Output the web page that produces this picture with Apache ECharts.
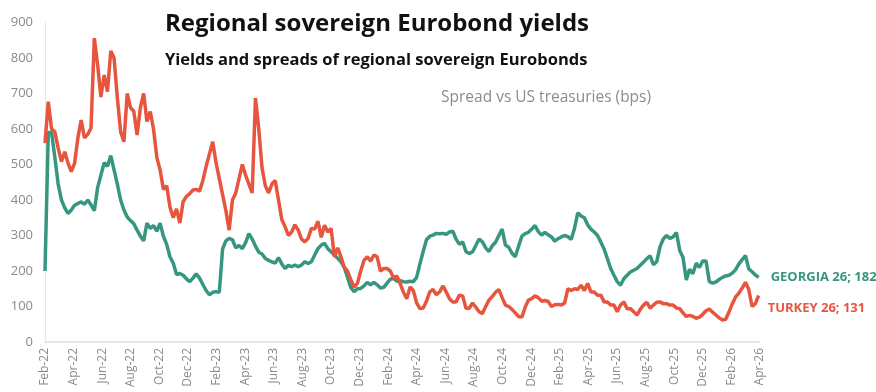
<!DOCTYPE html>
<html>
<head>
<meta charset="utf-8">
<script src="https://cdn.jsdelivr.net/npm/echarts@6/dist/echarts.min.js"></script>
<style>
html,body{margin:0;padding:0;background:#fff;}
#chart{width:876px;height:392px;}
</style>
</head>
<body>
<div id="chart"></div>
<script>
// Weekly observations starting 1 Feb 2022 (spread vs US treasuries, bps)
const startDate = '2022-02-01';
const stepDays = 7;
const tickLabels = ['Feb-22','Apr-22','Jun-22','Aug-22','Oct-22','Dec-22','Feb-23','Apr-23','Jun-23','Aug-23','Oct-23','Dec-23','Feb-24','Apr-24','Jun-24','Aug-24','Oct-24','Dec-24','Feb-25','Apr-25','Jun-25','Aug-25','Oct-25','Dec-25','Feb-26','Apr-26'];

const georgia = [
200,590,590,520,445,400,378,362,372,385,390,395,388,400,386,370,435,470,505,495,
525,485,445,400,372,352,342,333,315,298,285,335,320,328,312,335,298,275,240,222,
190,193,188,178,170,180,192,180,162,145,133,140,142,140,262,285,292,288,265,272,
263,280,305,290,270,253,248,235,230,226,222,238,220,207,216,212,217,212,217,226,
221,226,245,263,273,278,263,254,245,236,226,210,182,153,142,150,151,158,168,161,
168,161,152,154,166,177,179,171,173,170,169,171,170,182,220,255,288,298,301,306,
305,306,303,310,312,290,275,282,255,249,254,272,290,282,265,255,271,281,300,318,
273,267,250,240,270,298,305,309,318,328,311,301,309,302,296,284,291,296,300,297,
289,320,364,355,350,330,318,310,300,282,262,235,207,188,170,160,178,188,197,202,
207,216,225,235,243,218,226,268,290,300,292,296,308,258,238,175,205,192,222,210,
228,228,170,166,169,176,182,186,188,194,204,220,232,243,206,198,189,182
];

const turkey = [
560,677,600,592,546,508,536,504,480,504,575,625,575,585,603,856,781,690,752,705,
820,800,688,592,564,700,660,650,583,660,700,621,649,600,520,485,430,440,380,350,
375,335,395,410,418,428,430,425,455,495,530,564,505,460,415,370,315,400,420,460,
500,470,445,420,687,600,490,440,420,445,455,400,345,325,300,310,330,315,290,282,
292,320,318,340,295,329,310,320,240,265,240,210,200,175,155,165,200,230,240,228,
245,240,200,207,207,200,180,186,165,140,122,155,145,110,94,96,115,141,148,133,
141,158,141,122,113,113,132,130,95,95,110,98,85,80,100,118,128,140,148,125,
104,100,92,82,72,70,98,118,122,130,125,115,117,114,100,105,106,104,110,150,
145,150,148,160,145,165,141,141,132,132,113,113,104,104,85,104,113,94,94,85,
76,92,104,112,95,104,112,113,108,108,104,104,96,94,82,72,75,72,67,70,
78,88,93,84,76,68,62,64,85,108,127,138,152,168,148,100,108,131
];

const seriesNames = ['GEORGIA 26', 'TURKEY 26'];
const colors = ['#36967f', '#e8553f'];

// x value = months elapsed since the start date
const daysPerMonth = 30.4375;
function toPairs(arr){ return arr.map((v,i)=>[i*stepDays/daysPerMonth, v]); }

const chart = echarts.init(document.getElementById('chart'), null, {renderer:'canvas'});
const font = '"Open Sans", Lato, sans-serif';
chart.setOption({
  animation:false,
  backgroundColor:'#fff',
  title:[
    {text:'Regional sovereign Eurobond yields', left:165, top:12, padding:0, textStyle:{fontFamily:font, fontSize:24, fontWeight:'bold', color:'#111'}},
    {text:'Yields and spreads of regional sovereign Eurobonds', left:165, top:52, padding:0, textStyle:{fontFamily:font, fontSize:16.5, fontWeight:'bold', color:'#111'}},
    {text:'Spread vs US treasuries (bps)', left:441, top:90, padding:0, textStyle:{fontFamily:font, fontSize:15.5, fontWeight:'normal', color:'#8c8c8c'}}
  ],
  grid:{left:45, right:116, top:22.5, bottom:50, containLabel:false},
  xAxis:{
    type:'value', min:0, max:(tickLabels.length-1)*2, interval:2,
    axisLine:{show:true, lineStyle:{color:'#dedede', width:1.5}},
    axisTick:{show:false}, splitLine:{show:false},
    axisLabel:{rotate:90, color:'#8a8a8a', fontFamily:font, fontSize:12, margin:6,
      formatter:(v)=>tickLabels[Math.round(v/2)] || ''}
  },
  yAxis:{
    type:'value', min:0, max:900, interval:100,
    axisLine:{show:true, lineStyle:{color:'#e6e6e6', width:1}},
    axisTick:{show:false}, splitLine:{show:false},
    axisLabel:{color:'#8a8a8a', fontFamily:font, fontSize:13, margin:12}
  },
  series:[
    {name:seriesNames[0], type:'line', data:toPairs(georgia), showSymbol:false, symbol:'none',
     lineStyle:{color:colors[0], width:3.5}, itemStyle:{color:colors[0]},
     endLabel:{show:true, formatter:()=>seriesNames[0]+'; '+georgia[georgia.length-1], color:colors[0], fontFamily:font, fontSize:13, fontWeight:'bold', distance:12}},
    {name:seriesNames[1], type:'line', data:toPairs(turkey), showSymbol:false, symbol:'none',
     lineStyle:{color:colors[1], width:3.5}, itemStyle:{color:colors[1]},
     endLabel:{show:true, formatter:()=>seriesNames[1]+'; '+turkey[turkey.length-1], color:colors[1], fontFamily:font, fontSize:13, fontWeight:'bold', distance:9, offset:[0,13]}}
  ]
});
</script>
</body>
</html>
